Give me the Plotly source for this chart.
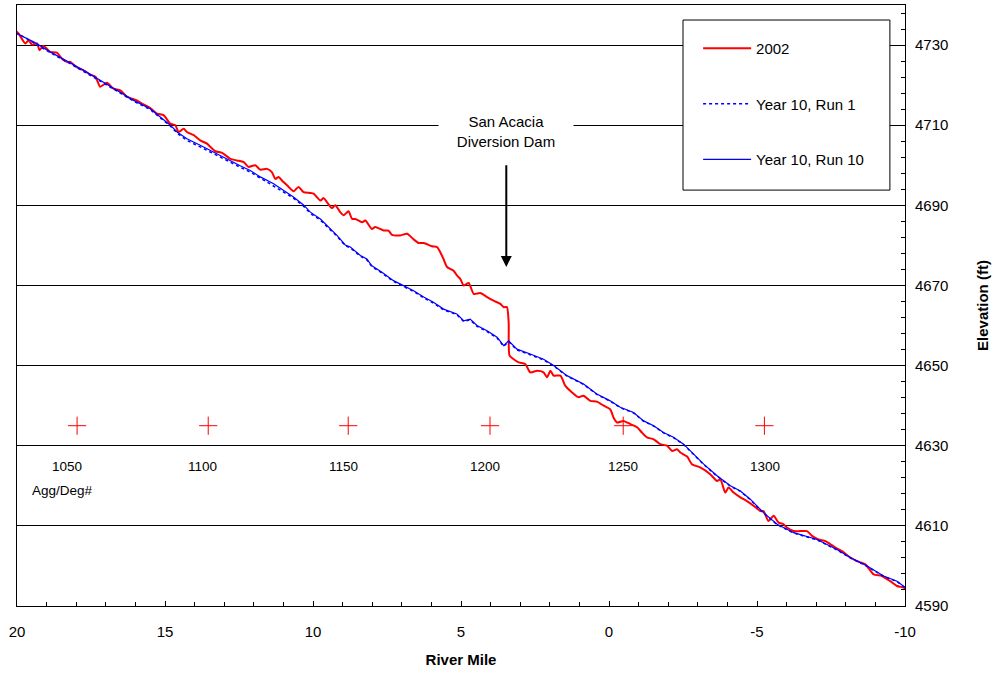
import plotly.graph_objects as go

# ---------------- data ----------------
rm_2002 = [20.23, 20.14, 20.06, 19.95, 19.72, 19.61, 19.49, 19.32, 19.24, 19.12, 18.99, 18.88, 18.65, 18.48,
           18.31, 18.20, 17.97, 17.75, 17.52, 17.35, 17.19, 16.96, 16.74, 16.51, 16.28, 15.95, 15.78, 15.50,
           15.27, 15.05, 14.82, 14.65, 14.54, 14.37, 14.26, 14.03, 13.81, 13.58, 13.47, 13.30, 13.07, 12.79,
           12.57, 12.34, 12.18, 11.95, 11.78, 11.55, 11.39, 11.27, 11.16, 11.05, 10.82, 10.66, 10.49, 10.32,
           10.09, 9.98, 9.75, 9.64, 9.53, 9.36, 9.25, 9.08, 8.97, 8.80, 8.68, 8.57, 8.34, 8.23, 8.01, 7.90,
           7.61, 7.45, 7.33, 7.05, 6.82, 6.60, 6.43, 6.26, 5.98, 5.81, 5.70, 5.59, 5.47, 5.25, 5.14, 5.02,
           4.91, 4.74, 4.57, 4.35, 4.12, 3.90, 3.67, 3.56, 3.45, 3.39, 3.36, 3.22, 3.05, 2.83, 2.66, 2.43,
           2.21, 2.09, 1.98, 1.87, 1.64, 1.48, 1.25, 1.03, 0.86, 0.63, 0.41, 0.18, -0.04, -0.16, -0.27,
           -0.49, -0.72, -0.95, -1.11, -1.28, -1.51, -1.73, -1.96, -2.13, -2.30, -2.41, -2.64, -2.80, -3.08,
           -3.42, -3.65, -3.76, -3.93, -4.04, -4.21, -4.44, -4.66, -4.89, -5.11, -5.22, -5.39, -5.56, -5.73,
           -5.90, -6.01, -6.24, -6.46, -6.69, -6.86, -7.08, -7.31, -7.48, -7.65, -7.87, -8.15, -8.38, -8.66,
           -8.94, -9.22, -9.50, -9.73, -9.95, -10.18]
elev_2002 = [4734.3, 4732.9, 4733.5, 4732.9, 4730.4, 4731.2, 4730.1, 4730.4, 4728.7, 4729.8, 4729.1, 4728.3,
             4728.1, 4726.6, 4725.8, 4725.8, 4724.4, 4723.7, 4722.6, 4722.1, 4719.6, 4720.6, 4719.1, 4718.7,
             4717.1, 4716.2, 4715.4, 4714.3, 4712.9, 4712.5, 4710.4, 4710.0, 4708.3, 4709.1, 4708.3, 4707.5,
             4706.2, 4705.4, 4704.6, 4703.5, 4703.1, 4701.6, 4701.2, 4700.8, 4699.6, 4700.0, 4698.9, 4699.1,
             4698.3, 4696.6, 4697.1, 4696.2, 4694.6, 4693.5, 4694.6, 4693.3, 4693.1, 4692.9, 4691.2, 4691.8,
             4690.8, 4689.3, 4690.0, 4688.3, 4687.5, 4688.5, 4686.6, 4686.6, 4685.8, 4686.2, 4684.1, 4684.6,
             4683.7, 4683.7, 4682.6, 4682.5, 4682.9, 4681.5, 4680.6, 4680.6, 4679.8, 4679.6, 4678.3, 4676.6,
             4674.6, 4673.7, 4672.5, 4671.6, 4670.0, 4670.6, 4667.9, 4668.1, 4667.1, 4666.2, 4665.4, 4664.6,
             4664.6, 4660.8, 4652.5, 4651.6, 4650.8, 4650.4, 4648.3, 4648.7, 4648.3, 4647.1, 4648.7, 4647.5,
             4647.5, 4645.0, 4643.3, 4642.1, 4642.5, 4641.2, 4641.0, 4640.0, 4639.1, 4636.9, 4635.8, 4636.2,
             4635.4, 4634.6, 4633.3, 4632.1, 4631.6, 4630.4, 4630.0, 4628.7, 4629.1, 4628.3, 4627.3, 4625.4,
             4624.6, 4622.9, 4621.2, 4621.6, 4618.3, 4619.6, 4618.3, 4617.1, 4616.2, 4615.0, 4613.7, 4613.7,
             4611.2, 4612.5, 4610.8, 4610.4, 4609.6, 4608.7, 4608.7, 4608.7, 4607.5, 4606.6, 4606.2, 4605.4,
             4604.6, 4603.7, 4602.1, 4601.2, 4600.4, 4597.9, 4597.5, 4596.2, 4595.0, 4594.6, 4593.7]

rm_run = [20.23, 19.89, 19.44, 18.88, 18.31, 17.75, 17.19, 16.62, 16.06, 15.50, 15.16, 14.82, 14.59, 14.26,
          13.81, 13.47, 13.13, 12.79, 12.46, 12.12, 11.78, 11.33, 10.99, 10.66, 10.32, 10.09, 9.75, 9.42,
          9.19, 8.91, 8.74, 8.40, 8.18, 8.01, 7.67, 7.28, 6.94, 6.60, 6.26, 5.93, 5.59, 5.25, 5.14, 4.91,
          4.69, 4.46, 4.12, 3.78, 3.56, 3.39, 3.11, 2.66, 2.21, 1.87, 1.42, 0.86, 0.41, -0.04, -0.38, -0.83,
          -1.17, -1.51, -1.84, -2.18, -2.52, -2.86, -3.20, -3.65, -4.10, -4.44, -4.78, -5.22, -5.68, -6.24,
          -7.03, -7.70, -8.15, -8.72, -9.28, -9.73, -10.01]
elev_run10 = [4733.7, 4732.5, 4730.8, 4728.3, 4726.0, 4723.7, 4721.2, 4718.7, 4716.2, 4714.1, 4712.1, 4710.0,
              4708.3, 4706.6, 4705.0, 4703.7, 4702.3, 4701.2, 4699.9, 4698.7, 4697.1, 4695.4, 4693.7, 4692.1,
              4690.1, 4688.3, 4686.6, 4684.1, 4682.5, 4680.1, 4679.6, 4677.5, 4676.6, 4674.9, 4673.3, 4671.2,
              4670.0, 4668.7, 4667.1, 4665.8, 4664.1, 4663.1, 4662.9, 4661.2, 4661.6, 4660.0, 4658.7, 4657.1,
              4655.0, 4656.2, 4654.1, 4652.9, 4651.6, 4650.0, 4647.5, 4645.4, 4642.9, 4641.2, 4639.6, 4638.3,
              4636.2, 4635.0, 4633.3, 4632.1, 4630.4, 4627.9, 4625.4, 4622.5, 4620.0, 4618.7, 4616.6, 4613.3,
              4610.4, 4608.3, 4606.6, 4604.1, 4602.1, 4600.0, 4597.5, 4596.2, 4594.6]
elev_run1 = [4733.7, 4732.5, 4730.6, 4728.1, 4725.8, 4723.5, 4721.0, 4718.5, 4716.0, 4713.9, 4711.9, 4709.8,
             4708.0, 4706.2, 4704.6, 4703.3, 4701.9, 4700.8, 4699.5, 4698.3, 4696.8, 4695.0, 4693.3, 4691.8,
             4689.8, 4688.0, 4686.3, 4683.9, 4682.3, 4679.9, 4679.4, 4677.3, 4676.4, 4674.7, 4673.1, 4671.0,
             4669.8, 4668.5, 4666.9, 4665.6, 4663.9, 4662.9, 4662.7, 4661.0, 4661.4, 4659.8, 4658.5, 4656.9,
             4654.8, 4656.0, 4653.9, 4652.7, 4651.4, 4649.9, 4647.4, 4645.3, 4642.8, 4641.1, 4639.5, 4638.2,
             4636.1, 4634.9, 4633.2, 4632.0, 4630.3, 4627.8, 4625.3, 4622.4, 4619.9, 4618.6, 4616.5, 4613.2,
             4610.3, 4608.2, 4606.5, 4604.0, 4602.0, 4599.9, 4597.4, 4596.1, 4594.5]

agg_rm = [17.97, 13.54, 8.81, 4.02, -0.48, -5.25]
agg_elev = [4635, 4635, 4635, 4635, 4635, 4635]
agg_labels = ["1050", "1100", "1150", "1200", "1250", "1300"]
agg_label_rm = [18.31, 13.75, 8.98, 4.20, -0.48, -5.28]
agg_label_elev = 4624.9

dam_rm = 3.47
dam_head_elev = 4674.6
dam_tail_elev = 4700.4
dam_text_elev = 4708.4

x_ticks = [20, 15, 10, 5, 0, -5, -10]
x_ticktext = ["20", "15", "10", "5", "0", "-5", "-10"]
y_ticks = [4590, 4610, 4630, 4650, 4670, 4690, 4710, 4730]

FONT = "Arial, 'Liberation Sans', sans-serif"

fig = go.Figure()

fig.add_trace(go.Scatter(x=rm_2002, y=elev_2002, mode="lines", name="2002",
                         line=dict(color="#ff0000", width=2, shape="spline", smoothing=0.6), legendgroup="a"))
fig.add_trace(go.Scatter(x=rm_run, y=elev_run1, mode="lines", name="Year 10, Run 1",
                         line=dict(color="#0000ff", width=1.5, dash="dot"), legendgroup="b"))
fig.add_trace(go.Scatter(x=rm_run, y=elev_run10, mode="lines", name="Year 10, Run 10",
                         line=dict(color="#0000ff", width=1.2), legendgroup="c"))
fig.add_trace(go.Scatter(x=agg_rm, y=agg_elev, mode="markers", showlegend=False,
                         marker=dict(symbol="cross-thin", size=13, line=dict(color="#ff0000", width=1))))

annotations = []
for lab, xr in zip(agg_labels, agg_label_rm):
    annotations.append(dict(x=xr, y=agg_label_elev, xref="x", yref="y", text=lab, showarrow=False,
                            font=dict(family=FONT, size=13.5, color="black")))
annotations.append(dict(x=18.47, y=4618.9, xref="x", yref="y", text="Agg/Deg#", showarrow=False,
                        font=dict(family=FONT, size=13.5, color="black")))
annotations.append(dict(x=dam_rm, y=dam_text_elev, xref="x", yref="y",
                        text="San Acacia<br>Diversion Dam", showarrow=False, bgcolor="white",
                        width=132, font=dict(family=FONT, size=15, color="black")))
annotations.append(dict(x=dam_rm, y=dam_head_elev, ax=dam_rm, ay=dam_tail_elev, xref="x", yref="y",
                        axref="x", ayref="y", text="", showarrow=True, arrowhead=2, arrowsize=1.1,
                        arrowwidth=2, arrowcolor="black"))

fig.update_layout(
    width=995, height=673,
    margin=dict(l=17, r=90, t=5, b=67),
    paper_bgcolor="white", plot_bgcolor="white",
    font=dict(family=FONT, size=15, color="black"),
    showlegend=True,
    legend=dict(x=0.767, y=0.955, xanchor="left", yanchor="top", bgcolor="rgba(0,0,0,0)",
                borderwidth=0, tracegroupgap=33, traceorder="grouped", itemwidth=48,
                font=dict(family=FONT, size=15, color="black")),
    annotations=annotations,
    shapes=[dict(type="rect", xref="paper", yref="paper", x0=0.75, x1=0.983, y0=0.692, y1=0.975,
                 fillcolor="white", line=dict(color="black", width=1), layer="above")],
)

fig.update_xaxes(range=[20, -10], tickvals=x_ticks, ticktext=x_ticktext, ticks="inside", ticklen=5,
                 tickcolor="black", ticklabelstandoff=12,
                 showline=True, linecolor="black", linewidth=1, mirror=True, showgrid=False, zeroline=False,
                 minor=dict(dtick=1, ticks="inside", ticklen=4, tickcolor="black"),
                 tickfont=dict(family=FONT, size=15),
                 title=dict(text="<b>River Mile</b>", font=dict(family=FONT, size=15), standoff=15))
fig.update_yaxes(range=[4590, 4740], side="right", tickvals=y_ticks, ticks="inside", ticklen=5,
                 tickcolor="black", showline=True, linecolor="black", linewidth=1, mirror=True,
                 ticklabelstandoff=6,
                 showgrid=True, gridcolor="black", gridwidth=1, zeroline=False,
                 minor=dict(dtick=4, tick0=4590, ticks="inside", ticklen=4, tickcolor="black"),
                 tickfont=dict(family=FONT, size=15),
                 title=dict(text="<b>Elevation (ft)</b>", font=dict(family=FONT, size=15), standoff=30))

fig.write_html("out.html")
